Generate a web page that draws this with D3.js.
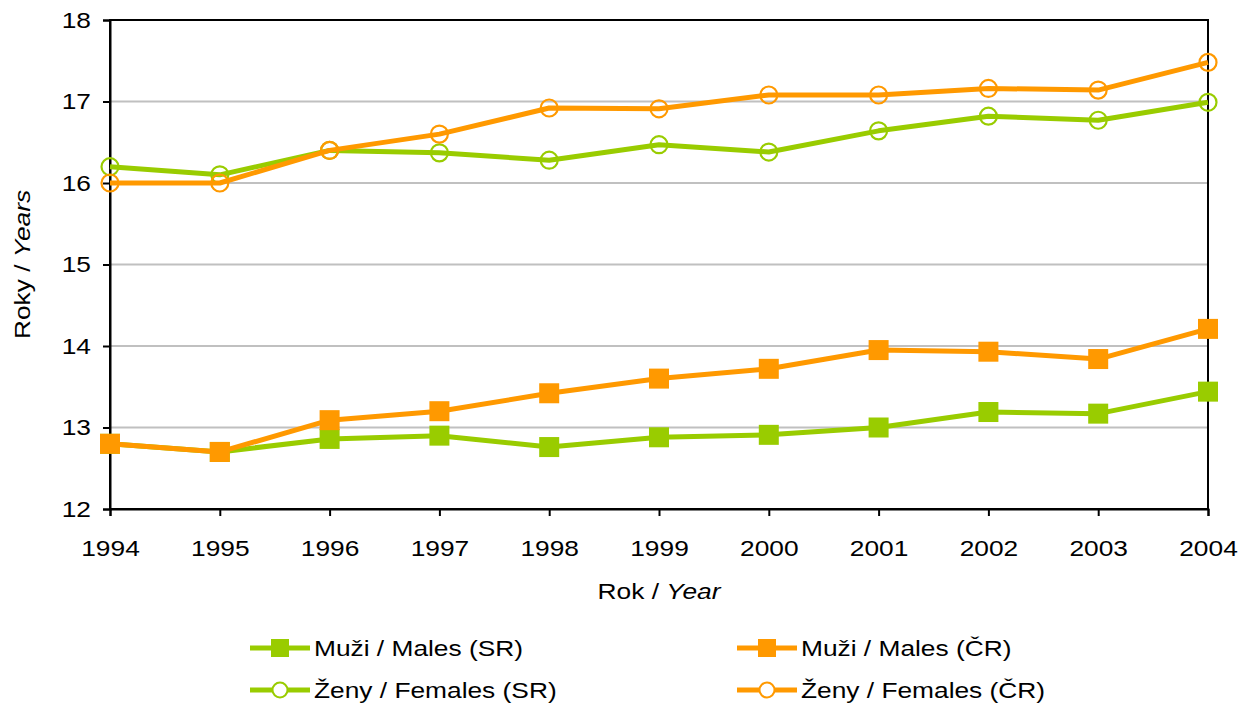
<!DOCTYPE html>
<html>
<head>
<meta charset="utf-8">
<script src="https://cdn.jsdelivr.net/npm/d3@7"></script>
<style>
  body { margin: 0; background: white; font-family: "Liberation Sans", Arial, sans-serif; }
</style>
</head>
<body>
<svg id="chart"></svg>
<script>
// data
let years = [1994, 1995, 1996, 1997, 1998, 1999, 2000, 2001, 2002, 2003, 2004]
let malesSR = [12.8, 12.7, 12.86, 12.9, 12.76, 12.88, 12.91, 13.0, 13.19, 13.17, 13.44]
let malesCR = [12.8, 12.7, 13.09, 13.2, 13.42, 13.6, 13.72, 13.95, 13.93, 13.84, 14.21]
let femalesSR = [16.2, 16.1, 16.4, 16.37, 16.28, 16.47, 16.38, 16.64, 16.82, 16.77, 16.99]
let femalesCR = [16.0, 16.0, 16.4, 16.6, 16.92, 16.91, 17.08, 17.08, 17.16, 17.14, 17.48]
let yTicks = [12, 13, 14, 15, 16, 17, 18]

let green = "#99cc00", orange = "#ff9900"

let series = [
  { name: "Muži / Males (SR)", values: malesSR, color: green, marker: "square" },
  { name: "Muži / Males (ČR)", values: malesCR, color: orange, marker: "square" },
  { name: "Ženy / Females (SR)", values: femalesSR, color: green, marker: "circle" },
  { name: "Ženy / Females (ČR)", values: femalesCR, color: orange, marker: "circle" }
]

let width = 1248, height = 706
let margin = { top: 20, left: 110, right: 40, bottom: 197 }
let fs = 22.5   // font size
let sx = 1.17   // the original text runs a bit wider than Liberation Sans

let svg = d3.select("#chart").attr("width", width).attr("height", height)

let x = d3.scaleLinear().domain([1994, 2004]).range([margin.left, width - margin.right])
let y = d3.scaleLinear().domain([12, 18]).range([height - margin.bottom, margin.top])

// widen text along its own direction, keeping its anchor point
function stretch(sel) {
  sel.each(function() {
    let t = d3.select(this)
    let tx = +t.attr("x") || 0
    let ty = +t.attr("y") || 0
    let old = t.attr("transform") || ""
    t.attr("x", 0).attr("y", 0)
      .attr("transform", `${old} translate(${tx},${ty}) scale(${sx},1)`)
  })
}

// gridlines
svg.append("g").selectAll("line")
  .data(yTicks.filter(t => t > 12 && t < 18))
  .enter().append("line")
  .attr("x1", x(1994)).attr("x2", x(2004))
  .attr("y1", d => y(d)).attr("y2", d => y(d))
  .attr("stroke", "#c0c0c0").attr("stroke-width", 2)

// plot frame
svg.append("rect")
  .attr("x", x(1994)).attr("y", y(18))
  .attr("width", x(2004) - x(1994)).attr("height", y(12) - y(18))
  .attr("fill", "none").attr("stroke", "black").attr("stroke-width", 2)

// axes
let axisY = d3.axisLeft(y).tickValues(yTicks).tickSize(7).tickPadding(12).tickFormat(d3.format("d"))
let gy = svg.append("g").attr("transform", `translate(${x(1994)},0)`).call(axisY)
let axisX = d3.axisBottom(x).tickValues(years).tickSize(7).tickPadding(24).tickFormat(d3.format("d"))
let gx = svg.append("g").attr("transform", `translate(0,${y(12)})`).call(axisX)
;[gx, gy].forEach(g => {
  g.select(".domain").attr("stroke", "black").attr("stroke-width", 2)
  g.selectAll(".tick line").attr("stroke", "black").attr("stroke-width", 2)
  g.selectAll("text").attr("font-size", fs).attr("font-family", "Liberation Sans, Arial, sans-serif").attr("fill", "black")
})
gx.selectAll(".tick text").call(stretch)
gy.selectAll(".tick text").call(stretch)

// axis titles
let xt = svg.append("text").attr("x", (x(1994) + x(2004)) / 2).attr("y", 599)
  .attr("text-anchor", "middle").attr("font-size", fs)
xt.append("tspan").text("Rok / ")
xt.append("tspan").attr("font-style", "italic").text("Year")
xt.call(stretch)

let yt = svg.append("text").attr("transform", `translate(30,${y(15)}) rotate(-90)`)
  .attr("text-anchor", "middle").attr("font-size", fs)
yt.append("tspan").text("Roky / ")
yt.append("tspan").attr("font-style", "italic").text("Years")
yt.call(stretch)

// lines and markers
let line = d3.line().x((d, i) => x(years[i])).y(d => y(d))

series.forEach(s => {
  let g = svg.append("g")
  g.append("path").datum(s.values).attr("d", line)
    .attr("fill", "none").attr("stroke", s.color).attr("stroke-width", 5)
    .attr("stroke-linejoin", "round")
  if (s.marker == "square") {
    g.selectAll("rect").data(s.values).enter().append("rect")
      .attr("x", (d, i) => x(years[i]) - 10).attr("y", d => y(d) - 10)
      .attr("width", 20).attr("height", 20).attr("fill", s.color)
  } else {
    g.selectAll("circle").data(s.values).enter().append("circle")
      .attr("cx", (d, i) => x(years[i])).attr("cy", d => y(d)).attr("r", 8.5)
      .attr("fill", "none").attr("stroke", s.color).attr("stroke-width", 2.2)
  }
})

// legend
let legendPos = [[250, 648], [737, 648], [250, 690], [737, 690]]
series.forEach((s, i) => {
  let [lx, ly] = legendPos[i]
  let g = svg.append("g")
  g.append("line").attr("x1", lx).attr("x2", lx + 60).attr("y1", ly).attr("y2", ly)
    .attr("stroke", s.color).attr("stroke-width", 5)
  if (s.marker == "square") {
    g.append("rect").attr("x", lx + 21).attr("y", ly - 9).attr("width", 18).attr("height", 18).attr("fill", s.color)
  } else {
    g.append("circle").attr("cx", lx + 30).attr("cy", ly).attr("r", 7.5)
      .attr("fill", "white").attr("stroke", s.color).attr("stroke-width", 2)
  }
  g.append("text").attr("x", lx + 64).attr("y", ly + 8).attr("font-size", fs).text(s.name).call(stretch)
})
</script>
</body>
</html>
